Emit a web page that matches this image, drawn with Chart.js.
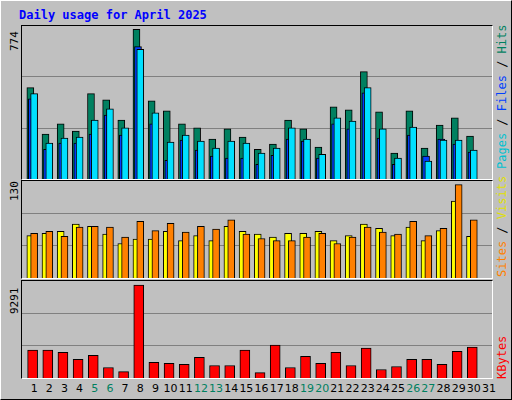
<!DOCTYPE html>
<html><head><meta charset="utf-8">
<script src="https://cdn.jsdelivr.net/npm/chart.js@4/dist/chart.umd.min.js"></script>
<style>
body{margin:0;background:#fff}
#wrap{position:relative;width:510px;height:398px;background:#c0c0c0;border-top:1px solid #fff;border-left:1px solid #fff;border-right:1px solid #000;border-bottom:1px solid #000;overflow:hidden;font-family:"DejaVu Sans Mono",monospace}
.panel{position:absolute;left:20px;width:470px;border-top:1px solid #000;border-left:1px solid #000;border-right:1px solid #fff;border-bottom:1px solid #fff}
.panel canvas{position:absolute;left:0;top:0}
.rot{position:absolute;transform-origin:0 0;transform:rotate(-90deg);white-space:nowrap;font-size:12px}
.xl{position:absolute;top:381px;font-size:11px;font-family:"DejaVu Sans",sans-serif;transform:translateX(-50%)}
</style></head><body>
<div id="wrap">
<div style="position:absolute;left:18px;top:7px;color:#0000ff;font-weight:bold;font-size:12px">Daily usage for April 2025</div>
<div class="panel" style="top:24px;height:153px"><canvas id="c1"></canvas></div>
<div class="panel" style="top:179px;height:97px"><canvas id="c2"></canvas></div>
<div class="panel" style="top:279px;height:97px"><canvas id="c3"></canvas></div>
<div class="rot" style="left:7px;top:50px;font-size:11px">774</div>
<div class="rot" style="left:7px;top:200px;font-size:11px">130</div>
<div class="rot" style="left:7px;top:313px;font-size:11px">9291</div>
<div class="rot" style="left:494px;top:168px"><span style="color:#00c0d0">Pages</span> / <span style="color:#0040ff">Files</span> / <span style="color:#008060">Hits</span></div>
<div class="rot" style="left:494px;top:276px"><span style="color:#ff8000">Sites</span> / <span style="color:#e0e000">Visits</span></div>
<div class="rot" style="left:494px;top:378px"><span style="color:#ff0000">KBytes</span></div>
<div id="xl"></div>
</div>
<script>
const days=[1,2,3,4,5,6,7,8,9,10,11,12,13,14,15,16,17,18,19,20,21,22,23,24,25,26,27,28,29,30,31];
const weekend=[5,6,12,13,19,20,26,27];
const hits=[472,232,285,248,441,409,305,774,404,352,285,264,206,259,217,154,180,305,259,165,373,357,555,347,134,352,160,279,316,222];
const files=[415,154,186,186,232,331,227,684,285,97,201,149,118,108,108,76,123,206,196,108,285,259,446,212,76,227,118,206,180,139];
const pages=[441,186,212,217,305,363,264,670,342,191,227,196,160,196,186,134,160,264,206,128,316,300,472,259,108,269,92,201,201,149];
const sites=[59,62,65,75,72,61,48,54,54,65,52,59,52,72,65,61,57,62,62,65,52,59,75,69,59,71,52,66,107,58];
const visits=[62,65,58,71,72,71,57,79,66,76,64,72,68,81,61,55,52,52,57,62,48,57,71,64,61,79,59,69,130,81];
const kbytes=[2780,2780,2576,1865,2271,1051,644,9291,1559,1458,1356,2068,1254,1254,2780,542,3288,1051,2170,1458,2576,1254,2983,848,1153,1865,1865,1356,2678,3085];

function pts(arr,off){return arr.map((v,i)=>({x:days[i]+off,y:v}));}
function ds(arr,off,color,w,order){return {data:pts(arr,off),order:order,backgroundColor:color,borderColor:'#000',borderWidth:1,barThickness:w,grouped:false,borderSkipped:'bottom'};}
function mk(id,datasets,max){
  const c=document.getElementById(id);
  new Chart(c,{type:'bar',data:{datasets},options:{
    responsive:false,animation:false,devicePixelRatio:1,
    layout:{padding:0},
    plugins:{legend:{display:false},tooltip:{enabled:false}},
    scales:{
      x:{type:'linear',min:0.5,max:31.5,offset:false,display:false},
      y:{min:0,max:max,display:true,ticks:{display:false},border:{display:false},
         grid:{color:'#808080',drawTicks:false,lineWidth:1},
         afterBuildTicks:s=>{s.ticks=[{value:max/3},{value:2*max/3}];}}
    }}});
}
function size(id){const c=document.getElementById(id);const p=c.parentElement;c.width=p.clientWidth;c.height=p.clientHeight;c.style.width=p.clientWidth+'px';c.style.height=p.clientHeight+'px';}
['c1','c2','c3'].forEach(size);
mk('c1',[ds(hits,0.05,'#008060',7,3),ds(files,0.15,'#0040ff',7,2),ds(pages,0.3,'#00e0ff',7,1)],791);
mk('c2',[ds(sites,0.05,'#ffff00',7,2),ds(visits,0.3,'#ff8000',7,1)],135);
mk('c3',[ds(kbytes,0.2,'#ff0000',10,1)],9700);
const xl=document.getElementById('xl');
days.forEach(d=>{const s=document.createElement('div');s.className='xl';s.textContent=d;
  s.style.left=(21+(d-0.5+0.3)*470/31)+'px';s.style.color=weekend.includes(d)?'#008060':'#000';xl.appendChild(s);});
</script>
</body></html>
